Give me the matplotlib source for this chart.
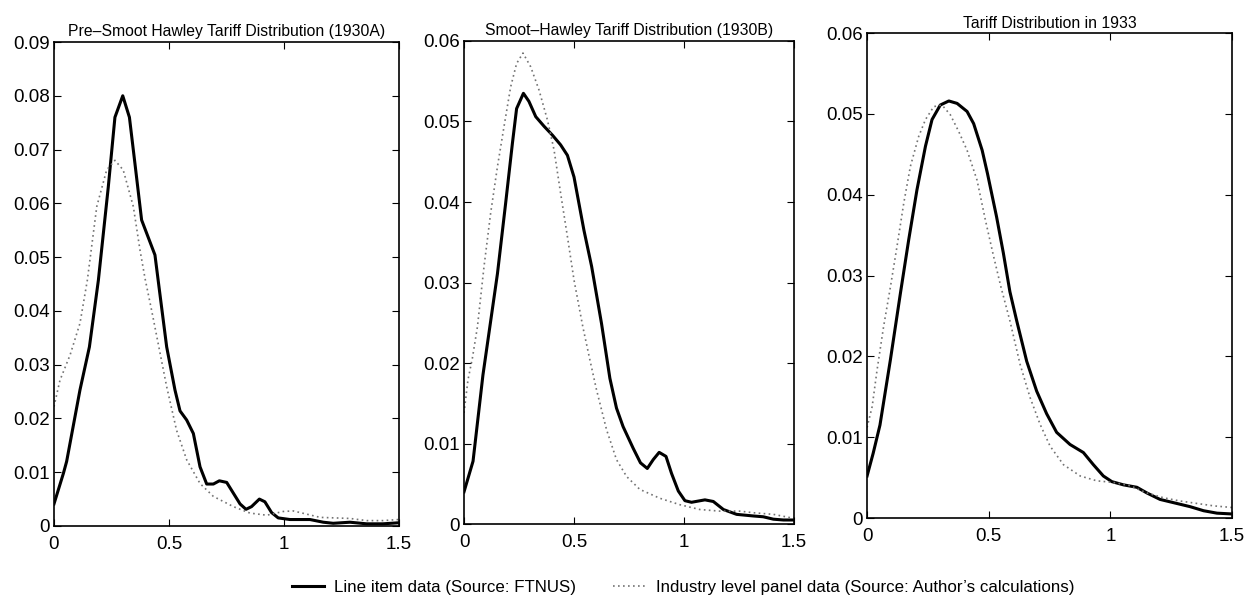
import numpy as np
import matplotlib
matplotlib.use("Agg")
import matplotlib.pyplot as plt

plt.rcParams['font.family'] = ['Liberation Sans', 'DejaVu Sans']

# Panel 1 - Pre-Smoot Hawley (1930A)
x1_line = [0, 0.041, 0.055, 0.113, 0.154, 0.193, 0.236, 0.265, 0.299, 0.328, 0.352, 0.381, 0.439,
           0.458, 0.49, 0.526, 0.548, 0.577, 0.606, 0.635, 0.664, 0.693, 0.719, 0.751, 0.78, 0.809,
           0.835, 0.859, 0.893, 0.917, 0.946, 0.975, 1.026, 1.113, 1.171, 1.214, 1.287, 1.36, 1.43, 1.5]
y1_line = [0.0041, 0.0098, 0.012, 0.0253, 0.0333, 0.0457, 0.063, 0.076, 0.080, 0.076, 0.0674, 0.0569, 0.0504,
           0.0440, 0.0333, 0.0253, 0.0214, 0.0197, 0.0172, 0.011, 0.0078, 0.0078, 0.0084, 0.0081, 0.0061, 0.0041,
           0.0031, 0.0036, 0.0050, 0.0045, 0.0025, 0.0015, 0.0012, 0.0012, 0.0007, 0.0005, 0.0007, 0.0004, 0.0004, 0.0006]
x1_ind = [0, 0.026, 0.07, 0.113, 0.145, 0.186, 0.229, 0.265, 0.301, 0.345, 0.374, 0.396, 0.425, 0.455,
          0.49, 0.533, 0.577, 0.635, 0.693, 0.78, 0.852, 0.925, 0.997, 1.04, 1.099, 1.157, 1.287, 1.36, 1.43, 1.5]
y1_ind = [0.0222, 0.0271, 0.0318, 0.0377, 0.0457, 0.0594, 0.0662, 0.068, 0.0662, 0.0594, 0.0513, 0.0460, 0.0400, 0.0335,
          0.0259, 0.0178, 0.0123, 0.0079, 0.0055, 0.0036, 0.0024, 0.002, 0.0027, 0.0028, 0.0022, 0.0016, 0.0014, 0.001, 0.001, 0.0012]

# Panel 2 - Smoot-Hawley (1930B)
x2_line = [0, 0.041, 0.086, 0.152, 0.189, 0.22, 0.239, 0.27, 0.295, 0.326, 0.364, 0.402, 0.439, 0.47,
           0.5, 0.545, 0.58, 0.625, 0.663, 0.693, 0.723, 0.769, 0.802, 0.833, 0.86, 0.887, 0.918,
           0.943, 0.974, 1.004, 1.034, 1.095, 1.133, 1.179, 1.239, 1.315, 1.36, 1.406, 1.452, 1.5]
y2_line = [0.0040, 0.0078, 0.0185, 0.0311, 0.0398, 0.0473, 0.0516, 0.0535, 0.0525, 0.0506, 0.0494, 0.0483, 0.0471, 0.0458,
           0.0431, 0.0365, 0.0320, 0.0249, 0.0181, 0.0144, 0.0121, 0.0094, 0.0076, 0.0069, 0.008, 0.0089, 0.0084,
           0.0063, 0.0041, 0.0029, 0.0027, 0.003, 0.0028, 0.0018, 0.0012, 0.001, 0.0009, 0.0006, 0.0005, 0.0005]
x2_ind = [0, 0.018, 0.038, 0.061, 0.091, 0.121, 0.152, 0.182, 0.212, 0.239, 0.268, 0.303, 0.341, 0.379, 0.409,
          0.439, 0.47, 0.5, 0.54, 0.572, 0.602, 0.648, 0.693, 0.739, 0.799, 0.89, 0.981, 1.072, 1.163,
          1.254, 1.315, 1.406, 1.5]
y2_ind = [0.0138, 0.0179, 0.0206, 0.0245, 0.032, 0.0386, 0.0444, 0.0494, 0.0543, 0.0572, 0.0585, 0.0568, 0.0539, 0.0502, 0.0465,
          0.0411, 0.0357, 0.0303, 0.0245, 0.0204, 0.0167, 0.0117, 0.008, 0.0059, 0.0043, 0.0032, 0.0024, 0.0018, 0.0016,
          0.0016, 0.0014, 0.0012, 0.0007]

# Panel 3 - 1933
x3_line = [0, 0.025, 0.053, 0.096, 0.137, 0.171, 0.205, 0.24, 0.267, 0.301, 0.336, 0.37, 0.411, 0.438,
           0.473, 0.495, 0.532, 0.56, 0.587, 0.615, 0.656, 0.697, 0.738, 0.779, 0.834, 0.889, 0.93, 0.971,
           1.006, 1.054, 1.109, 1.15, 1.204, 1.273, 1.328, 1.383, 1.438, 1.5]
y3_line = [0.0052, 0.0080, 0.0115, 0.0196, 0.0278, 0.0344, 0.0406, 0.046, 0.0493, 0.0511, 0.0516, 0.0513, 0.0503, 0.0488,
           0.0455, 0.0426, 0.0373, 0.0328, 0.0280, 0.0244, 0.0194, 0.0157, 0.0129, 0.0106, 0.0091, 0.0081, 0.0066, 0.0052,
           0.0045, 0.0041, 0.0038, 0.0031, 0.0023, 0.0018, 0.0014, 0.0009, 0.0006, 0.0005]
x3_ind = [0, 0.021, 0.041, 0.068, 0.096, 0.123, 0.151, 0.178, 0.212, 0.24, 0.274, 0.308, 0.342, 0.377, 0.411,
          0.452, 0.486, 0.519, 0.55, 0.587, 0.629, 0.67, 0.711, 0.752, 0.807, 0.876, 0.944, 1.013, 1.081, 1.15, 1.219,
          1.287, 1.356, 1.425, 1.5]
y3_ind = [0.0112, 0.0138, 0.0183, 0.0237, 0.0286, 0.0336, 0.039, 0.0435, 0.0472, 0.0493, 0.0509, 0.0511, 0.0499, 0.0478, 0.0455,
          0.0418, 0.0369, 0.0325, 0.0286, 0.0244, 0.019, 0.0149, 0.0116, 0.0089, 0.0066, 0.0052, 0.0046, 0.0044, 0.004, 0.0031, 0.0025,
          0.0021, 0.0018, 0.0015, 0.0013]

titulos = ["Pre\u2013Smoot Hawley Tariff Distribution (1930A)",
           "Smoot\u2013Hawley Tariff Distribution (1930B)",
           "Tariff Distribution in 1933"]
y_tope = [0.09, 0.06, 0.06]
posiciones = [[0.0434, 0.116, 0.2773, 0.8134],
              [0.373, 0.1193, 0.2653, 0.8118],
              [0.697, 0.1294, 0.2934, 0.815]]
datos = [(x1_line, y1_line, x1_ind, y1_ind),
         (x2_line, y2_line, x2_ind, y2_ind),
         (x3_line, y3_line, x3_ind, y3_ind)]

fig = plt.figure(figsize=(12.44, 5.95), dpi=100)

for i in range(3):
    ax = fig.add_axes(posiciones[i])
    xl, yl, xi, yi = datos[i]
    l1, = ax.plot(xl, yl, color='black', lw=2.2, label='Line item data (Source: FTNUS)')
    l2, = ax.plot(xi, yi, color='0.45', lw=1.2, linestyle=(0, (1, 2)),
                  label="Industry level panel data (Source: Author\u2019s calculations)")
    ax.set_xlim(0, 1.5)
    ax.set_ylim(0, y_tope[i])
    ax.set_xticks([0, 0.5, 1, 1.5])
    ax.set_xticklabels(['0', '0.5', '1', '1.5'])
    yt = np.arange(0, y_tope[i] + 1e-9, 0.01)
    ax.set_yticks(yt)
    ax.set_yticklabels(['0'] + ['%.2f' % v for v in yt[1:]])
    ax.tick_params(direction='in', top=True, right=True, labelsize=13.5, length=5)
    ax.tick_params(axis='y', pad=3)
    ax.tick_params(axis='x', pad=7)
    for s in ax.spines.values():
        s.set_linewidth(1.2)
    ax.set_title(titulos[i], fontsize=11.3, pad=4)

fig.legend(handles=[l1, l2], loc='center', bbox_to_anchor=(0.549, 0.013), ncol=2,
           frameon=False, fontsize=12.2, handlelength=1.9, handletextpad=0.6,
           columnspacing=2.2)

fig.savefig('out.png', dpi=100)
